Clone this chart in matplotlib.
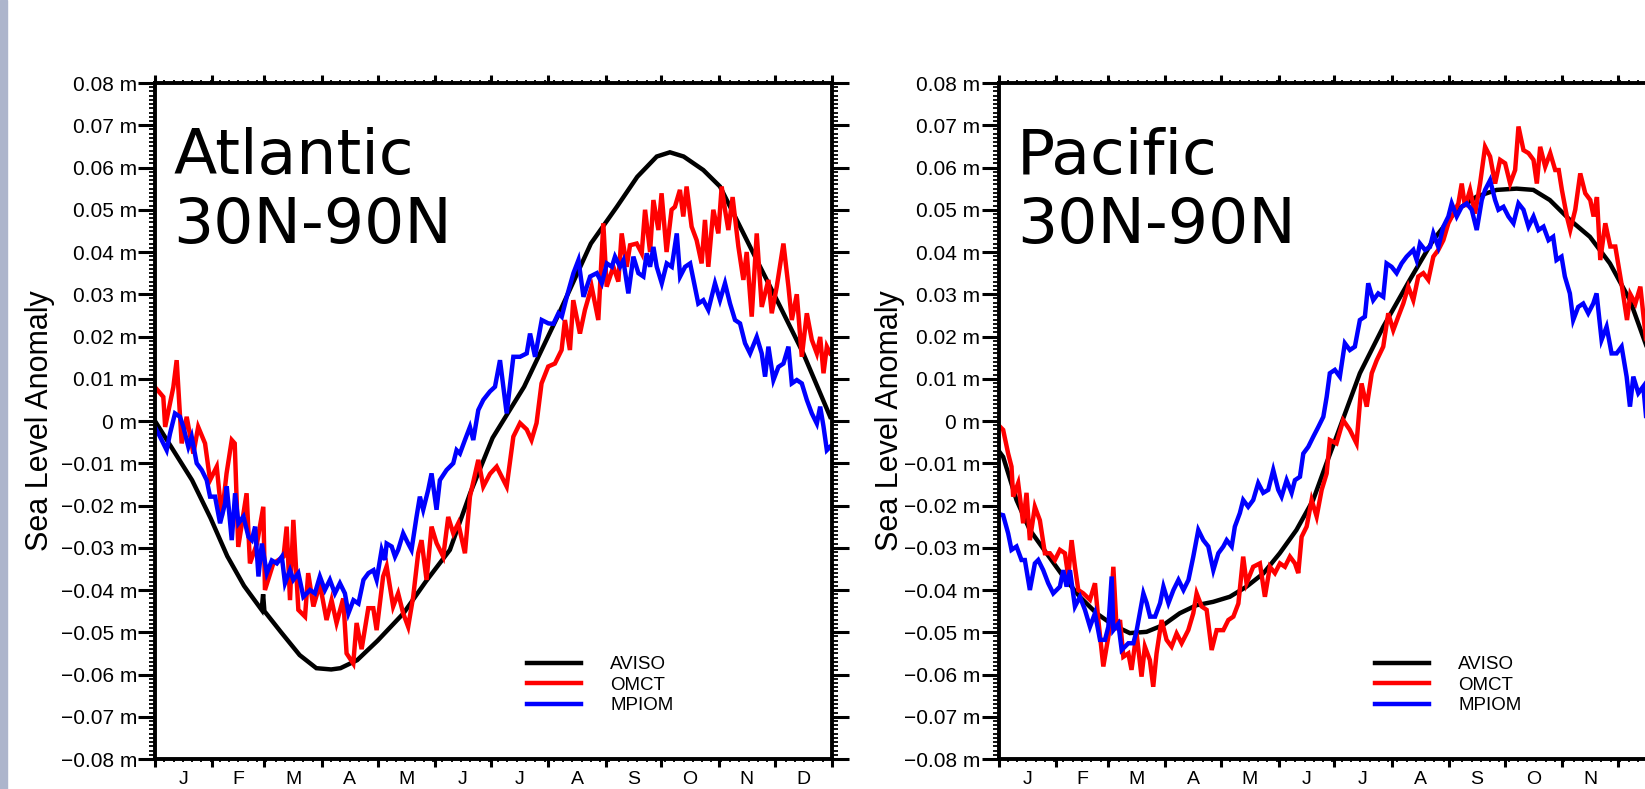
import matplotlib
matplotlib.use('Agg')
import matplotlib.pyplot as plt
import matplotlib.transforms as mtransforms
from matplotlib.patches import Rectangle
from matplotlib.ticker import MultipleLocator, FixedLocator, FixedFormatter

plt.rcParams['font.family'] = ['Liberation Sans', 'DejaVu Sans']

# ---- axis data ----
month_letters = ['J', 'F', 'M', 'A', 'M', 'J', 'J', 'A', 'S', 'O', 'N', 'D']
month_starts = [0, 31, 59, 90, 120, 151, 181, 212, 243, 273, 304, 334, 365]
month_mids = [15.5, 45, 74.5, 105, 135.5, 166, 196.5, 227.5, 258, 288.5, 319, 349.5]
ytick_values = [-0.08, -0.07, -0.06, -0.05, -0.04, -0.03, -0.02, -0.01, 0.0,
                0.01, 0.02, 0.03, 0.04, 0.05, 0.06, 0.07, 0.08]
ytick_labels = ['\u22120.08 m', '\u22120.07 m', '\u22120.06 m', '\u22120.05 m',
                '\u22120.04 m', '\u22120.03 m', '\u22120.02 m', '\u22120.01 m', '0 m',
                '0.01 m', '0.02 m', '0.03 m', '0.04 m', '0.05 m', '0.06 m',
                '0.07 m', '0.08 m']
series_names = ['AVISO', 'OMCT', 'MPIOM']
series_colors = ['black', 'red', 'blue']

# ---- Atlantic 30N-90N ----
atl_aviso_day = [0, 10, 20, 30, 39, 48, 57.5, 58.3, 59, 68, 78, 87, 95, 100, 109, 120,
                 134, 146, 159, 170, 182, 199, 217, 235, 249, 260, 270.5, 277.6, 285,
                 295.6, 304.6, 313.6, 324.4, 337, 349.5, 364]
atl_aviso = [0.000, -0.007, -0.014, -0.023, -0.032, -0.039, -0.0447, -0.041, -0.0450,
             -0.050, -0.0554, -0.0585, -0.0588, -0.0585, -0.0566, -0.052, -0.0455,
             -0.038, -0.0305, -0.017, -0.004, 0.0081, 0.0247, 0.042, 0.0507, 0.0578,
             0.0626, 0.0636, 0.0626, 0.0594, 0.0555, 0.0476, 0.0381, 0.0271, 0.016, 0.001]

atl_omct_day = [0, 2, 4.5, 5.5, 9.9, 11.7, 14.4, 17.1, 20.7, 23.3, 27, 29.7, 33.3, 36,
                38.6, 41.4, 43, 44.9, 49.4, 51.2, 55, 58.4, 59.3, 63.8, 69.3, 71, 72.8,
                74.6, 77.3, 80.9, 82.6, 85.4, 88.9, 92.5, 95.2, 97.9, 101.5, 103.3, 106.9,
                108.7, 111.4, 115, 117.7, 119.5, 123, 124.9, 128.4, 131.1, 133.8, 136.5,
                139.2, 141.9, 143.7, 146.4, 149.1, 151.8, 155.4, 158.1, 160.8, 163.5,
                167.1, 169.8, 174.3, 177, 180.6, 184.2, 189.6, 193.2, 196.8, 200.4, 203,
                205.7, 208.4, 212, 215.6, 219.2, 221, 223.7, 225.5, 229.1, 231.8, 235.4,
                239, 241.7, 243.5, 247.1, 249.8, 251.6, 254.3, 256.1, 259.7, 262.4, 264.2,
                266.9, 268.7, 271.4, 273.1, 275.8, 278.5, 280.3, 283, 284.8, 286.6, 289.3,
                292, 294.7, 296.5, 298.3, 301, 303.7, 305.5, 307.3, 309.1, 311.4, 314.5,
                317.2, 319, 321.7, 324.4, 327.1, 330.7, 332.5, 335.2, 338.8, 341.5, 343.3,
                346, 348.7, 351.4, 354.1, 356.8, 358.6, 360.4, 362.2, 364]
atl_omct = [0.008, 0.007, 0.0057, -0.0014, 0.008, 0.0144, -0.0053, 0.001, -0.0077,
            -0.0014, -0.0053, -0.014, -0.0108, -0.0227, -0.0124, -0.0045, -0.0053,
            -0.0298, -0.0171, -0.0337, -0.029, -0.0203, -0.040, -0.0337, -0.0321, -0.025,
            -0.0424, -0.0234, -0.0447, -0.0463, -0.036, -0.0439, -0.0386, -0.0471,
            -0.0424, -0.0478, -0.042, -0.055, -0.0574, -0.0478, -0.054, -0.0443, -0.0443,
            -0.0495, -0.0368, -0.0344, -0.0439, -0.0408, -0.0455, -0.0487, -0.0416,
            -0.0313, -0.0282, -0.0376, -0.025, -0.0289, -0.0321, -0.0227, -0.0266,
            -0.0242, -0.0313, -0.0179, -0.0092, -0.0155, -0.0125, -0.0108, -0.0155,
            -0.0037, -0.0005, -0.002, -0.0045, -0.0005, 0.0089, 0.0129, 0.0136, 0.0168,
            0.0239, 0.0168, 0.0286, 0.0207, 0.0263, 0.0318, 0.0239, 0.0468, 0.0318,
            0.0365, 0.033, 0.0444, 0.0365, 0.0416, 0.042, 0.0397, 0.050, 0.040, 0.0523,
            0.0452, 0.0539, 0.040, 0.050, 0.0507, 0.0547, 0.0484, 0.0555, 0.046, 0.0428,
            0.0373, 0.0476, 0.0365, 0.050, 0.0444, 0.0555, 0.050, 0.0452, 0.053, 0.0413,
            0.0334, 0.040, 0.0247, 0.0444, 0.027, 0.0334, 0.0255, 0.0318, 0.042, 0.0318,
            0.0239, 0.030, 0.0152, 0.0255, 0.0192, 0.016, 0.0199, 0.0113, 0.0176, 0.016]

atl_mpiom_day = [0, 2.7, 6.3, 8.1, 10.8, 13.5, 15.3, 18, 19.8, 22.5, 25.2, 27.9, 29.7,
                 32.4, 35.1, 37.8, 38.7, 41.4, 43.2, 45, 47.7, 50.4, 52.2, 54, 55.8, 57.6,
                 60.3, 63, 65.7, 68.4, 70.1, 72.8, 74.6, 77.3, 80, 83.6, 86.2, 88.9, 91.6,
                 94.3, 97, 99.7, 102.4, 104.3, 107, 109.7, 112.4, 115.1, 117.8, 119.5,
                 122.2, 124, 124.9, 127.6, 129.4, 131.1, 133.8, 136.5, 138.3, 141, 142.8,
                 144.6, 147.3, 149.1, 151.8, 153.6, 157.2, 160.8, 162.6, 164.4, 167.1,
                 169.8, 171.6, 174.3, 177, 180.6, 183.3, 186, 189.6, 193.2, 196.8, 200.4,
                 202.2, 204.9, 208.5, 212.1, 214.8, 217.5, 219.3, 222, 225.6, 228.3, 231,
                 234.6, 238.2, 240.9, 243.6, 246.3, 248, 250.7, 252.5, 255.2, 257.9, 260.6,
                 263.3, 265.1, 266.9, 268.7, 270.5, 273.2, 275.9, 278.6, 281.3, 283.1,
                 285.8, 288.5, 290.3, 292.9, 295.6, 298.3, 301.9, 304.6, 307.3, 310, 312.7,
                 315.4, 318.1, 320.8, 324.4, 327.1, 328.9, 330.7, 333.4, 336.1, 338.8,
                 341.5, 343.3, 346, 348.7, 351.4, 354.1, 356.8, 358.6, 360.4, 362.2, 364]
atl_mpiom = [-0.0014, -0.0037, -0.0069, -0.003, 0.0018, 0.001, -0.0014, -0.0061, -0.0037,
             -0.010, -0.0116, -0.014, -0.0179, -0.0179, -0.0242, -0.0195, -0.0155,
             -0.0282, -0.0171, -0.0242, -0.0226, -0.0274, -0.0282, -0.025, -0.0368,
             -0.029, -0.036, -0.033, -0.0337, -0.0321, -0.0384, -0.0353, -0.0376, -0.036,
             -0.0416, -0.040, -0.0408, -0.0368, -0.040, -0.0376, -0.0408, -0.0384,
             -0.0408, -0.0455, -0.0424, -0.0432, -0.0376, -0.036, -0.0353, -0.0376,
             -0.0305, -0.0329, -0.029, -0.0297, -0.0321, -0.0305, -0.0266, -0.029,
             -0.0305, -0.0227, -0.0179, -0.021, -0.0163, -0.0124, -0.021, -0.014, -0.0116,
             -0.010, -0.0069, -0.0077, -0.0045, -0.0014, -0.0045, 0.0026, 0.005, 0.007,
             0.0081, 0.0144, 0.0018, 0.0152, 0.0152, 0.016, 0.0207, 0.0152, 0.0239,
             0.0231, 0.023, 0.0255, 0.0247, 0.0294, 0.035, 0.0381, 0.0294, 0.0342, 0.035,
             0.0326, 0.0373, 0.0365, 0.0389, 0.0365, 0.038, 0.0302, 0.0389, 0.035, 0.0342,
             0.0397, 0.0365, 0.0412, 0.0365, 0.0326, 0.0373, 0.0365, 0.0444, 0.0342,
             0.0365, 0.0373, 0.0334, 0.0278, 0.0286, 0.0263, 0.0326, 0.0286, 0.0326,
             0.0278, 0.0239, 0.0231, 0.0184, 0.016, 0.0199, 0.016, 0.0105, 0.0176, 0.0097,
             0.0128, 0.0136, 0.0176, 0.0089, 0.0097, 0.0089, 0.005, 0.0018, -0.0006,
             0.0034, -0.0013, -0.0069, -0.0061]

# ---- Pacific 30N-90N ----
pac_aviso_day = [0, 2.5, 9.7, 16.9, 25.9, 34.9, 43.8, 52.8, 61.8, 70.8, 79.8, 88.8, 97.7,
                 106.7, 115.7, 124.7, 133.7, 142.7, 151.6, 160.6, 169.6, 176.8, 182.2,
                 194.8, 207.4, 221.7, 234.3, 246.9, 257.7, 268.5, 279.3, 288.3, 297.2, 308,
                 318.8, 329.6, 340.4, 349.4, 357, 364]
pac_aviso = [-0.007, -0.0085, -0.0187, -0.0258, -0.0313, -0.0368, -0.0416, -0.0455,
             -0.0483, -0.0502, -0.0499, -0.0483, -0.0455, -0.0436, -0.0428, -0.0416,
             -0.0392, -0.0361, -0.0313, -0.0258, -0.0187, -0.010, -0.0037, 0.0113,
             0.0223, 0.0334, 0.0428, 0.0499, 0.0531, 0.0547, 0.055, 0.0547, 0.0523,
             0.0476, 0.0436, 0.0373, 0.0286, 0.0176, 0.008, -0.002]

pac_omct_day = [0, 2.5, 5.2, 7, 7.9, 10.6, 13.3, 15.1, 16.9, 19.6, 22.3, 25, 27.7, 30.4,
                33.1, 35.8, 37.6, 39.4, 41.2, 43, 45.7, 49.3, 52, 53.8, 56.5, 60.1, 61.9,
                63.7, 65.5, 67.3, 70, 71.7, 74.4, 77.1, 78.9, 81.6, 83.4, 85.2, 87.9, 90.6,
                93.3, 96, 98.7, 102.3, 105, 106.8, 109.5, 112.2, 114.9, 117.6, 121.2,
                123.9, 126.6, 129.3, 131.9, 133.7, 137.3, 140.9, 143.6, 146.3, 149, 151.7,
                154.4, 157.1, 159.8, 161.6, 163.4, 166.1, 168.8, 171.5, 174.2, 176.9,
                178.6, 182.2, 185.8, 189.4, 193, 195.7, 198.5, 201.2, 203.9, 207.4, 210.1,
                212.8, 215.5, 218.2, 220.9, 223.6, 226.3, 229, 231.7, 234.4, 237.1, 239.8,
                242.5, 245.2, 247.9, 249.7, 251.5, 254.2, 256.9, 259.6, 262.3, 265, 267.7,
                270.4, 273.1, 275.8, 278.5, 280.3, 283, 285.7, 288.4, 290.2, 292, 294.7,
                297.4, 300.1, 302, 303.7, 306.4, 308.2, 310.9, 313.6, 316.3, 319, 320.8,
                322.6, 324.4, 327.1, 329.8, 332.5, 334.3, 336.1, 338.8, 340.6, 343.3, 346,
                348.7, 352, 356, 360, 364]
pac_omct = [-0.001, -0.0021, -0.0077, -0.0108, -0.0179, -0.0147, -0.0242, -0.017,
            -0.0282, -0.0203, -0.0235, -0.0313, -0.0313, -0.0329, -0.0305, -0.0313,
            -0.0368, -0.0282, -0.0345, -0.040, -0.0408, -0.0423, -0.0384, -0.0471,
            -0.0581, -0.0487, -0.0345, -0.0495, -0.0471, -0.0558, -0.055, -0.0589,
            -0.0502, -0.0605, -0.0534, -0.0566, -0.0629, -0.055, -0.0471, -0.0518,
            -0.0534, -0.0503, -0.0526, -0.0495, -0.0455, -0.0408, -0.0439, -0.0447,
            -0.0542, -0.0495, -0.0495, -0.0471, -0.0463, -0.0432, -0.0321, -0.0384,
            -0.0345, -0.0337, -0.0416, -0.0345, -0.036, -0.0337, -0.0345, -0.0321,
            -0.0337, -0.036, -0.0274, -0.025, -0.0187, -0.0226, -0.0163, -0.0124,
            -0.0045, -0.0053, 0.0002, -0.0021, -0.0053, 0.0089, 0.0034, 0.0113, 0.0144,
            0.0176, 0.0255, 0.0215, 0.0247, 0.0278, 0.0318, 0.0286, 0.0342, 0.035,
            0.0334, 0.0389, 0.0405, 0.0428, 0.0468, 0.0491, 0.0515, 0.0562, 0.0507,
            0.0547, 0.0491, 0.0562, 0.0649, 0.0626, 0.0562, 0.0618, 0.061, 0.0562,
            0.0594, 0.0697, 0.0641, 0.0634, 0.0618, 0.0562, 0.0649, 0.0602, 0.0634,
            0.0594, 0.0594, 0.0547, 0.0484, 0.0452, 0.050, 0.0586, 0.0539, 0.0523,
            0.0484, 0.053, 0.0381, 0.0468, 0.0413, 0.0413, 0.0365, 0.0318, 0.0239,
            0.030, 0.0278, 0.0318, 0.0207, 0.024, 0.015, 0.010, 0.006]

pac_mpiom_day = [0, 2.5, 5.2, 7, 9.7, 12.4, 14.2, 16.9, 19.6, 21.4, 24.1, 26.8, 29.5,
                 33.1, 34.9, 36.7, 38.5, 41.2, 43.9, 46.6, 49.3, 52, 54.7, 57.4, 59.2, 61,
                 61.9, 64.6, 66.4, 70, 72.7, 74.5, 78.1, 79.9, 81.7, 84.4, 87.1, 88.9,
                 91.6, 94.3, 97, 99.7, 102.4, 105, 107.7, 110.4, 113.1, 115.8, 118.5,
                 121.2, 123, 125.7, 127.4, 130.1, 131.9, 134.6, 137.3, 140, 142.7, 145.4,
                 148.1, 150.8, 152.6, 155.3, 158, 159.8, 162.5, 164.3, 167, 169.7, 172.4,
                 175.1, 176.9, 178.6, 181.3, 184, 186.7, 189.4, 192.1, 194.8, 197.5, 199.3,
                 202, 204.7, 207.4, 209.2, 211.9, 214.6, 217.3, 220, 223.6, 225.4, 227.2,
                 229.9, 232.6, 234.4, 237.1, 239.8, 242.5, 244.3, 247, 249.7, 252.4, 255.1,
                 257.8, 260.5, 262.3, 265, 267.7, 269.5, 272.2, 274.9, 277.6, 280.3, 283,
                 285.7, 288.4, 291.1, 293.8, 296.5, 299, 300.8, 303.5, 305.3, 308, 309.8,
                 312.5, 315.2, 317.9, 320.6, 322.4, 325.1, 327.8, 330.5, 333.2, 335.9,
                 338.6, 340.4, 342.2, 344.9, 347.6, 349.4, 353, 358, 364]
pac_mpiom = [-0.022, -0.0223, -0.0266, -0.0305, -0.0297, -0.0329, -0.0329, -0.040,
             -0.0337, -0.0329, -0.0353, -0.0384, -0.0408, -0.0392, -0.0353, -0.0392,
             -0.0353, -0.0439, -0.0416, -0.0447, -0.0487, -0.0455, -0.0518, -0.0518,
             -0.0487, -0.0368, -0.0495, -0.048, -0.0542, -0.0526, -0.0526, -0.0495,
             -0.0408, -0.0431, -0.0463, -0.0463, -0.0431, -0.0392, -0.0431, -0.040,
             -0.0376, -0.040, -0.0376, -0.0321, -0.0258, -0.0282, -0.0297, -0.0353,
             -0.0313, -0.0297, -0.0282, -0.0297, -0.025, -0.0218, -0.0187, -0.0203,
             -0.0187, -0.0147, -0.017, -0.0163, -0.0116, -0.0163, -0.0179, -0.014,
             -0.017, -0.014, -0.0132, -0.0077, -0.0061, -0.0037, -0.0014, 0.001, 0.0057,
             0.0113, 0.0121, 0.0105, 0.0184, 0.0168, 0.0176, 0.0239, 0.0247, 0.0326,
             0.0286, 0.0302, 0.0294, 0.0373, 0.0365, 0.035, 0.0373, 0.0389, 0.0405,
             0.0381, 0.042, 0.0405, 0.0412, 0.0444, 0.0412, 0.046, 0.0484, 0.0515,
             0.0484, 0.0507, 0.0515, 0.050, 0.0452, 0.0523, 0.0547, 0.057, 0.0523, 0.050,
             0.0507, 0.0484, 0.0468, 0.0515, 0.050, 0.046, 0.0484, 0.0452, 0.046, 0.0428,
             0.0436, 0.0381, 0.0389, 0.0342, 0.0302, 0.0239, 0.027, 0.0278, 0.0255,
             0.0278, 0.0302, 0.0192, 0.0223, 0.016, 0.016, 0.0176, 0.0105, 0.0034,
             0.0105, 0.0066, 0.0082, -0.0005, 0.002, -0.004, -0.008]

panels = [
    ('Atlantic\n30N-90N', [(atl_aviso_day, atl_aviso), (atl_omct_day, atl_omct),
                           (atl_mpiom_day, atl_mpiom)]),
    ('Pacific\n30N-90N', [(pac_aviso_day, pac_aviso), (pac_omct_day, pac_omct),
                          (pac_mpiom_day, pac_mpiom)]),
]

fig = plt.figure(figsize=(16.45, 7.89), dpi=100)
fig.patches.append(Rectangle((0, 0), 7 / 1645, 1, transform=fig.transFigure,
                             color='#adb5cc', zorder=0))

axes_rects = [[0.0942, 0.038, 0.4116, 0.8568], [0.6070, 0.038, 0.4116, 0.8568]]
legend_x = [0.549, 0.556]
ylabel_x = [-0.147, -0.138]

for i, (title, series) in enumerate(panels):
    rect = axes_rects[i]
    ax = fig.add_axes(rect)
    lines = []
    for (days, vals), name, col in zip(series, series_names, series_colors):
        ln, = ax.plot(days, vals, color=col, lw=3.2, label=name,
                      solid_joinstyle='miter')
        lines.append(ln)

    ax.set_xlim(0, 365)
    ax.set_ylim(-0.08, 0.08)

    for sp in ax.spines.values():
        sp.set_linewidth(2.8)

    ax.yaxis.set_major_locator(FixedLocator(ytick_values))
    ax.yaxis.set_major_formatter(FixedFormatter(ytick_labels))
    ax.yaxis.set_minor_locator(MultipleLocator(0.001))
    ax.tick_params(axis='y', which='major', direction='out', length=12, width=2.2,
                   left=True, right=True, labelsize=15, pad=1)
    ax.tick_params(axis='y', which='minor', direction='out', length=4, width=1.3,
                   left=True, right=True)

    ax.xaxis.set_major_locator(FixedLocator(month_starts))
    ax.xaxis.set_minor_locator(MultipleLocator(5))
    ax.tick_params(axis='x', which='major', direction='out', length=5.5, width=2.2,
                   top=True, bottom=True, labelbottom=False)
    ax.tick_params(axis='x', which='minor', direction='out', length=2.5, width=1.3,
                   top=True, bottom=True)

    # month letters, skipping the ones that fall past the right edge of the figure
    trans = mtransforms.blended_transform_factory(ax.transData, ax.transAxes)
    for m, lab in zip(month_mids, month_letters):
        if rect[0] + rect[2] * m / 365 > 0.995:
            continue
        ax.text(m, -0.0296, lab, transform=trans, ha='center', va='center',
                fontsize=14)

    ax.set_ylabel('Sea Level Anomaly', fontsize=22)
    ax.yaxis.set_label_coords(ylabel_x[i], 0.5)

    ax.text(0.027, 0.935, title, transform=ax.transAxes, ha='left', va='top',
            fontsize=45.5, family='DejaVu Sans', linespacing=1.2)

    ax.legend(lines, series_names, loc='upper left',
              bbox_to_anchor=(legend_x[i], 0.152), frameon=False, fontsize=13.5,
              handlelength=2.9, handletextpad=1.55, labelspacing=0.18,
              borderpad=0, borderaxespad=0)

fig.savefig('out.png', dpi=100)
